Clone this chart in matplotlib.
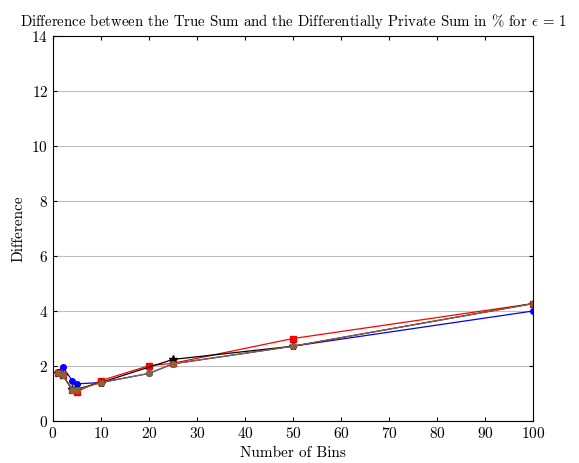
import matplotlib
matplotlib.use("Agg")
import matplotlib.pyplot as plt

plt.rcParams['font.family'] = 'serif'
plt.rcParams['font.serif'] = ['cmr10']
plt.rcParams['mathtext.fontset'] = 'cm'
plt.rcParams['axes.formatter.use_mathtext'] = True

bins = [1, 2, 4, 5, 10, 20, 25, 50, 100]
blue_vals = [1.79, 1.97, 1.47, 1.35, 1.40, 1.73, 2.08, 2.72, 4.00]
red_vals = [1.75, 1.68, 1.12, 1.07, 1.47, 2.01, 2.10, 3.00, 4.27]
brown_vals = [1.75, 1.68, 1.13, 1.13, 1.40, 1.73, 2.08, 2.72, 4.27]
# black series has no point at 20
black_bins = [1, 2, 4, 5, 10, 25, 50, 100]
black_vals = [1.75, 1.68, 1.15, 1.16, 1.40, 2.24, 2.72, 4.27]

fig = plt.figure(figsize=(5.79, 4.63), dpi=100)
ax = fig.add_axes([0.0915, 0.0907, 0.8291, 0.8315])

ax.plot(bins, blue_vals, color='blue', marker='o', ms=4, lw=0.9)
ax.plot(bins, red_vals, color='red', marker='s', ms=4, lw=0.9)
ax.plot(black_bins, black_vals, color='black', marker='*', ms=6, lw=0.9)
ax.plot(bins, brown_vals, color='#8c6239', marker='o', ms=4, lw=0.9)

ax.set_xlim(0, 100)
ax.set_ylim(0, 14)
ax.set_xticks(range(0, 101, 10))
ax.set_yticks(range(0, 15, 2))
ax.yaxis.grid(True, color='#c0c0c0', lw=0.8)
ax.set_axisbelow(True)
ax.tick_params(direction='in', top=True, right=True, labelsize=11, length=3)
for s in ax.spines.values():
    s.set_linewidth(0.8)

ax.set_xlabel('Number of Bins', fontsize=11)
ax.set_ylabel('Difference', fontsize=11)
ax.set_title(r'Difference between the True Sum and the Differentially Private Sum in % for $\epsilon$ = 1',
             fontsize=10.7, pad=7)

fig.savefig('out.png', dpi=100)
